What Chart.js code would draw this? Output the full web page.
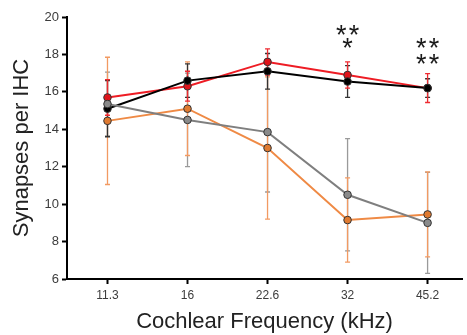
<!DOCTYPE html>
<html>
<head>
<meta charset="utf-8">
<script src="https://cdn.jsdelivr.net/npm/chart.js@4.4.1/dist/chart.umd.min.js"></script>
<style>
html,body{margin:0;padding:0;background:#fff;}
#wrap{width:467px;height:335px;position:relative;}
</style>
</head>
<body>
<div id="wrap"><canvas id="c" width="467" height="335"></canvas></div>
<script>
// ---- data ----
const categories = ['11.3', '16', '22.6', '32', '45.2'];
const yTicks = [6, 8, 10, 12, 14, 16, 18, 20];

const blackVals  = [15.1, 16.6, 17.1, 16.55, 16.2];
const blackErr   = [1.5, 0.9, 0.95, 0.85, 0.5];
const redVals    = [15.7, 16.3, 17.6, 16.9, 16.2];
const redErr     = [0.95, 0.8, 0.7, 0.7, 0.77];
const grayVals   = [15.35, 14.5, 13.85, 10.5, 9.0];
const grayErr    = [1.7, 2.5, 3.2, 3.0, 2.7];
const orangeVals = [14.45, 15.1, 13.0, 9.15, 9.45];
const orangeErr  = [3.4, 2.5, 3.8, 2.25, 2.27];

// significance marks: category index, y value, text
const sigIndex = [3, 3, 4, 4];
const sigY     = [19.25, 18.6, 18.6, 17.75];
const sigText  = ['**', '*', '**', '**'];

const xTitle = 'Cochlear Frequency (kHz)';
const yTitle = 'Synapses per IHC';

function pts(vals){ return vals.map((v,i)=>({x:i, y:v})); }

const seriesDefs = [
  {vals: grayVals,   err: grayErr,   line:'#7f7f7f', fill:'#8a8a8a', bar:'#9a9a9a'},
  {vals: orangeVals, err: orangeErr, line:'#ef8a45', fill:'#e07a30', bar:'#f29a62'},
  {vals: blackVals,  err: blackErr,  line:'#000000', fill:'#000000', bar:'#333333'},
  {vals: redVals,    err: redErr,    line:'#ee1c24', fill:'#e0141b', bar:'#ee2a30'},
];

const datasets = seriesDefs.map(s => ({
  data: pts(s.vals),
  errs: s.err,
  barColor: s.bar,
  borderColor: s.line,
  backgroundColor: s.fill,
  pointBackgroundColor: s.fill,
  pointBorderColor: '#333',
  pointBorderWidth: 1,
  pointRadius: 3.8,
  borderWidth: 2,
  tension: 0,
  showLine: true,
}));

const errorBars = {
  id: 'errorBars',
  beforeDatasetsDraw(chart){
    const ctx = chart.ctx, xs = chart.scales.x, ys = chart.scales.y;
    ctx.save();
    chart.data.datasets.forEach(ds => {
      ctx.strokeStyle = ds.barColor;
      ctx.lineWidth = 1.3;
      ds.data.forEach((p,i) => {
        const e = ds.errs[i];
        const px = xs.getPixelForValue(p.x);
        const top = ys.getPixelForValue(p.y + e);
        const bot = ys.getPixelForValue(p.y - e);
        ctx.beginPath();
        ctx.moveTo(px, top); ctx.lineTo(px, bot);
        ctx.moveTo(px-2.5, top); ctx.lineTo(px+2.5, top);
        ctx.moveTo(px-2.5, bot); ctx.lineTo(px+2.5, bot);
        ctx.stroke();
      });
    });
    ctx.restore();
  }
};

const sigMarks = {
  id: 'sigMarks',
  afterDatasetsDraw(chart){
    const ctx = chart.ctx, xs = chart.scales.x, ys = chart.scales.y;
    ctx.save();
    ctx.fillStyle = '#1a1a1a';
    ctx.font = '27px "Liberation Sans", Arial, sans-serif';
    ctx.textAlign = 'center';
    ctx.textBaseline = 'middle';
    sigText.forEach((t,i) => {
      const px = xs.getPixelForValue(sigIndex[i]);
      const py = ys.getPixelForValue(sigY[i]);
      ctx.fillText(t.split('').join('\u200A'), px, py + 6);
    });
    ctx.restore();
  }
};

new Chart(document.getElementById('c'), {
  type: 'scatter',
  data: { datasets },
  plugins: [errorBars, sigMarks],
  options: {
    responsive: false,
    animation: false,
    layout: { padding: { top: 17, right: 0, left: 0, bottom: 0 } },
    plugins: { legend: { display: false }, tooltip: { enabled: false } },
    scales: {
      x: {
        type: 'linear',
        min: -0.506, max: 4.43,
        afterBuildTicks(scale){ scale.ticks = categories.map((c,i)=>({value:i})); },
        afterFit(scale){ scale.height = 56; },
        ticks: {
          callback: v => categories[v],
          color: '#3c3c3c',
          font: { family: '"Liberation Sans", Arial, sans-serif', size: 12 },
          padding: 4,
          maxRotation: 0,
        },
        grid: { display: true, drawOnChartArea: false, drawTicks: true, tickLength: 5, tickColor: '#000', tickWidth: 2 },
        border: { display: true, color: '#000', width: 2 },
        title: {
          display: true, text: xTitle, color: '#222',
          font: { family: '"Liberation Sans", Arial, sans-serif', size: 22 },
          padding: { top: 0, bottom: 0 },
        },
      },
      y: {
        type: 'linear',
        min: 6, max: 20,
        afterBuildTicks(scale){ scale.ticks = yTicks.map(v=>({value:v})); },
        afterFit(scale){ scale.width = 67; },
        ticks: {
          color: '#3c3c3c',
          font: { family: '"Liberation Sans", Arial, sans-serif', size: 13 },
          padding: 3,
        },
        grid: { display: true, drawOnChartArea: false, drawTicks: true, tickLength: 5, tickColor: '#000', tickWidth: 2 },
        border: { display: true, color: '#000', width: 2 },
        title: {
          display: true, text: yTitle, color: '#222',
          font: { family: '"Liberation Sans", Arial, sans-serif', size: 22 },
          padding: { top: 9, bottom: 0 },
        },
      },
    },
  },
});
</script>
</body>
</html>
